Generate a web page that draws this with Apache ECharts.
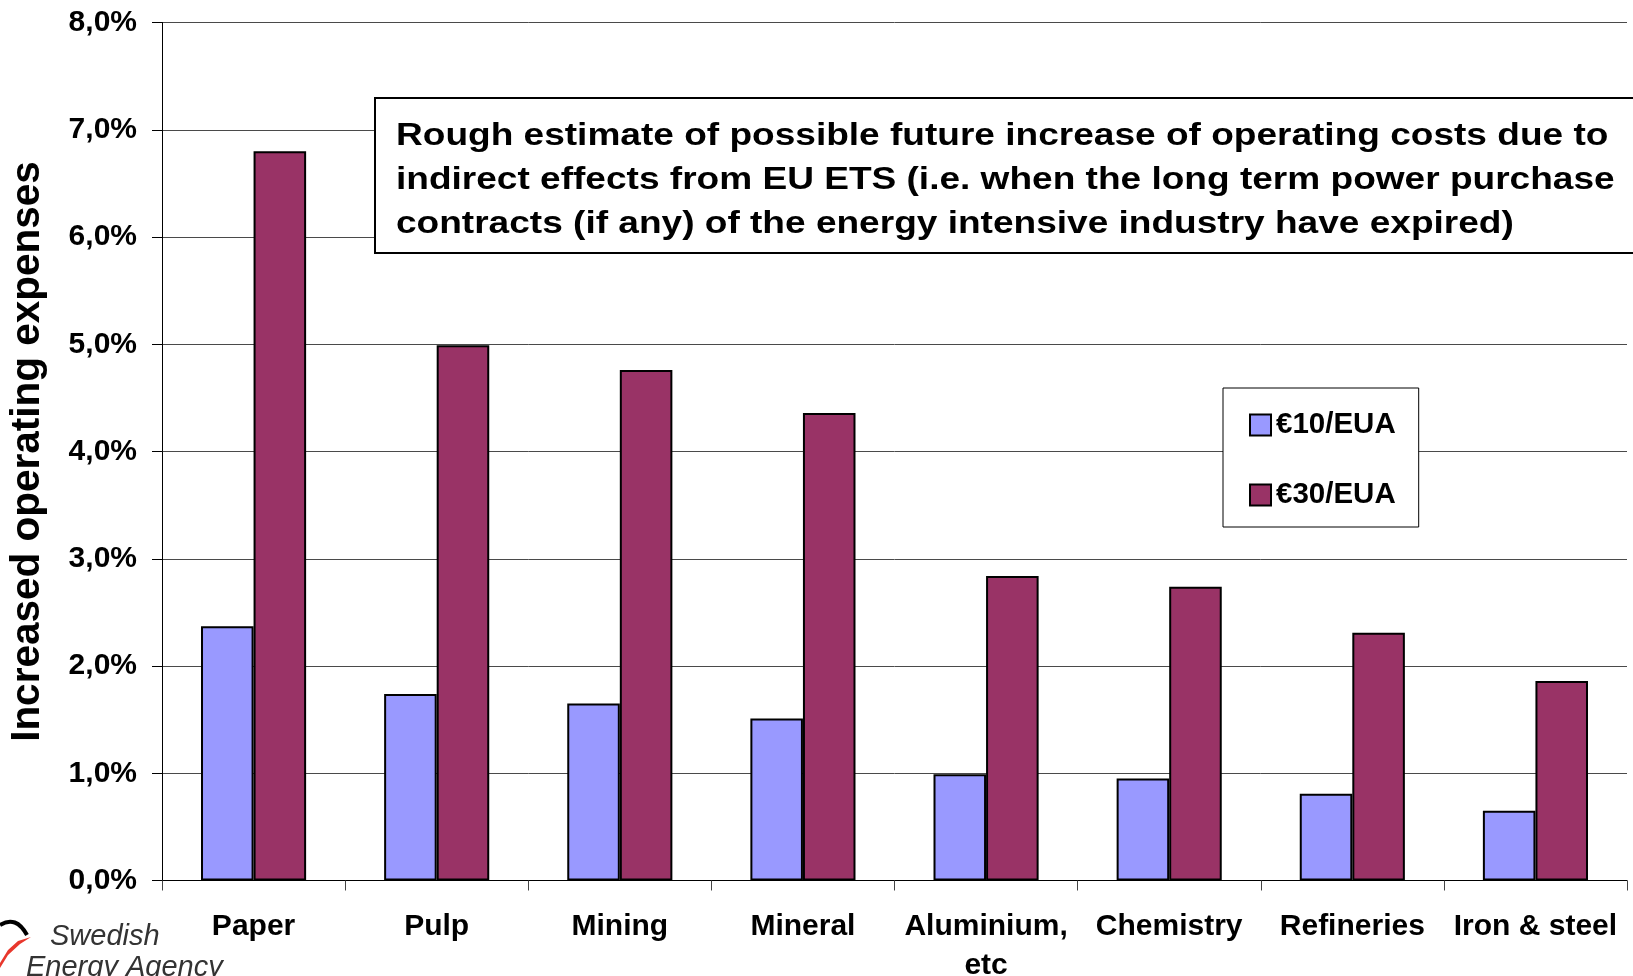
<!DOCTYPE html>
<html>
<head>
<meta charset="utf-8">
<script src="https://cdn.jsdelivr.net/npm/echarts@6/dist/echarts.min.js"></script>
<style>
html,body{margin:0;padding:0;background:#fff;}
#chart{width:1633px;height:976px;}
</style>
</head>
<body>
<div id="chart"></div>
<script>
var categories = ['Paper', 'Pulp', 'Mining', 'Mineral', 'Aluminium,\netc', 'Chemistry', 'Refineries', 'Iron & steel'];
var eur10 = [2.37, 1.74, 1.65, 1.51, 0.99, 0.95, 0.81, 0.65];
var eur30 = [6.80, 4.99, 4.76, 4.36, 2.84, 2.74, 2.31, 1.86];
var seriesNames = ['€10/EUA', '€30/EUA'];
var yTicks = [0, 1, 2, 3, 4, 5, 6, 7, 8];
var titleLines = [
  'Rough estimate of possible future increase of operating costs due to',
  'indirect effects from EU ETS (i.e. when the long term power purchase',
  'contracts (if any) of the energy intensive industry have expired)'
];
var yAxisTitle = 'Increased operating expenses';

var FONT = '"Liberation Sans", Arial, sans-serif';
var chart = echarts.init(document.getElementById('chart'), null, {renderer: 'canvas'});

var option = {
  backgroundColor: '#ffffff',
  animation: false,
  grid: {left: 162, right: 6, top: 22.5, bottom: 95.5, containLabel: false, outerBoundsMode: 'none'},
  legend: {
    orient: 'vertical',
    left: 1223,
    top: 388,
    data: seriesNames,
    backgroundColor: '#ffffff',
    borderColor: '#000',
    borderWidth: 1,
    padding: [22, 23, 17, 26],
    itemWidth: 21,
    itemHeight: 21,
    itemGap: 40,
    icon: 'rect',
    textStyle: {fontFamily: FONT, fontWeight: 'bold', fontSize: 29.5, color: '#000', lineHeight: 30},
    z: 10
  },
  xAxis: {
    type: 'category',
    data: categories,
    axisLine: {lineStyle: {color: '#000', width: 1}},
    axisTick: {show: true, length: 10, lineStyle: {color: '#444'}},
    axisLabel: {
      fontFamily: FONT, fontWeight: 'bold', fontSize: 30, color: '#000',
      margin: 27, lineHeight: 39, interval: 0
    }
  },
  yAxis: {
    type: 'value',
    min: yTicks[0],
    max: yTicks[yTicks.length - 1],
    interval: 1,
    name: yAxisTitle,
    nameLocation: 'middle',
    nameGap: 114,
    nameTextStyle: {fontFamily: FONT, fontWeight: 'bold', fontSize: 40.5, color: '#000'},
    axisLine: {show: true, lineStyle: {color: '#000', width: 1}},
    axisTick: {show: true, length: 10, lineStyle: {color: '#000'}},
    splitLine: {show: true, lineStyle: {color: '#4a4a4a', width: 1}},
    axisLabel: {
      fontFamily: FONT, fontWeight: 'bold', fontSize: 30, color: '#000', margin: 25,
      formatter: function (v) { return v.toFixed(1).replace('.', ',') + '%'; }
    }
  },
  series: [
    {
      name: seriesNames[0], type: 'bar', data: eur10,
      barGap: '0%', barCategoryGap: '42.6%',
      itemStyle: {color: '#9999FF', borderColor: '#000', borderWidth: 2}
    },
    {
      name: seriesNames[1], type: 'bar', data: eur30,
      barGap: '0%', barCategoryGap: '42.6%',
      itemStyle: {color: '#993366', borderColor: '#000', borderWidth: 2}
    }
  ],
  graphic: [
    {
      type: 'rect', z: 20,
      shape: {x: 375, y: 98, width: 1300, height: 155},
      style: {fill: '#fff', stroke: '#000', lineWidth: 2}
    },
    {
      type: 'text', z: 21, x: 396, y: 114, scaleX: 1.195, scaleY: 1,
      style: {
        text: titleLines.join('\n'),
        font: 'bold 31px "Liberation Sans", Arial, sans-serif',
        fill: '#000', lineHeight: 44.3
      }
    },
    {
      type: 'bezierCurve', z: 5,
      shape: {x1: 0, y1: 925, x2: 27, y2: 935, cpx1: 16, cpy1: 915},
      style: {fill: null, stroke: '#000', lineWidth: 4}
    },
    {
      type: 'polygon', z: 5,
      shape: {points: [[0, 963], [8, 950], [18, 941], [31, 937], [20, 944], [8, 955], [0, 968]]},
      style: {fill: '#e8372c', stroke: null}
    },
    {
      type: 'text', z: 5, x: 50, y: 922,
      style: {text: 'Swedish', font: 'italic 29px "Liberation Sans", Arial, sans-serif', fill: '#333'}
    },
    {
      type: 'text', z: 5, x: 26, y: 953,
      style: {text: 'Energy Agency', font: 'italic 29px "Liberation Sans", Arial, sans-serif', fill: '#333'}
    }
  ]
};
chart.setOption(option);
</script>
</body>
</html>
